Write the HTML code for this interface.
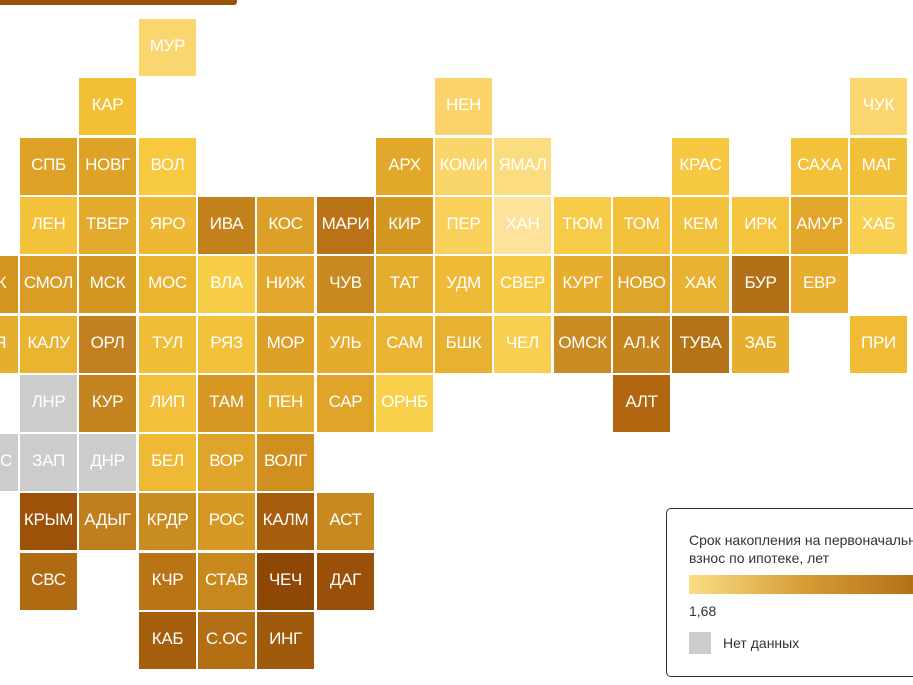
<!DOCTYPE html>
<html><head><meta charset="utf-8"><style>
body{margin:0;width:913px;height:685px;overflow:hidden;background:#fff;position:relative;font-family:"Liberation Sans",sans-serif}
.t{position:absolute;width:57px;height:54px;padding-bottom:3px;color:#fff;font-size:17px;display:flex;align-items:center;justify-content:center;white-space:nowrap;letter-spacing:-0.3px}
#bar{position:absolute;left:-5px;top:-5px;width:242px;height:10px;background:#9c5208;border-radius:3px}
#leg{position:absolute;left:666px;top:508px;width:260px;height:167px;border:1px solid #333;border-radius:5px;background:#fff}
</style></head><body>
<div id="bar"></div>
<div id="map"></div>
<div id="leg">
<div style="position:absolute;left:22px;top:22px;font-size:14px;line-height:18px;color:#333;white-space:nowrap">Срок накопления на первоначальный<br>взнос по ипотеке, лет</div>
<div style="position:absolute;left:22px;top:66px;width:240px;height:19px;background:linear-gradient(90deg,#fbdd85,#d49a34 50%,#b06a14)"></div>
<div style="position:absolute;left:22px;top:94px;font-size:14px;color:#333">1,68</div>
<div style="position:absolute;left:22px;top:123px;width:22px;height:22px;background:#cccccc"></div>
<div style="position:absolute;left:56px;top:126px;font-size:14px;color:#333">Нет данных</div>
</div>
<script>
var d=[
[0,2,"МУР","#fad66e"],
[1,1,"КАР","#f2c035"],[1,7,"НЕН","#fad36a"],[1,14,"ЧУК","#fbd66f"],
[2,0,"СПБ","#dea227"],[2,1,"НОВГ","#dea227"],[2,2,"ВОЛ","#f6c93e"],[2,6,"АРХ","#e2a82a"],[2,7,"КОМИ","#fad56a"],[2,8,"ЯМАЛ","#fbdc80"],[2,11,"КРАС","#f6c842"],[2,13,"САХА","#f4c23a"],[2,14,"МАГ","#f1bf38"],
[3,0,"ЛЕН","#f3c23a"],[3,1,"ТВЕР","#e4aa2e"],[3,2,"ЯРО","#eeb834"],[3,3,"ИВА","#c4821c"],[3,4,"КОС","#dca028"],[3,5,"МАРИ","#b97316"],[3,6,"КИР","#d49722"],[3,7,"ПЕР","#f8d05a"],[3,8,"ХАН","#fce29a"],[3,9,"ТЮМ","#f6cb48"],[3,10,"ТОМ","#f2c03a"],[3,11,"КЕМ","#f3c23c"],[3,12,"ИРК","#f4c43e"],[3,13,"АМУР","#e2a62a"],[3,14,"ХАБ","#f8cf50"],
[4,-1,"ПСК","#d49520"],[4,0,"СМОЛ","#d99c24"],[4,1,"МСК","#d39620"],[4,2,"МОС","#eab42f"],[4,3,"ВЛА","#f8cd48"],[4,4,"НИЖ","#e2a72b"],[4,5,"ЧУВ","#c88920"],[4,6,"ТАТ","#e5ad2e"],[4,7,"УДМ","#efbb36"],[4,8,"СВЕР","#f6ca44"],[4,9,"КУРГ","#e6ad2f"],[4,10,"НОВО","#dfa42a"],[4,11,"ХАК","#e9b232"],[4,12,"БУР","#b47016"],[4,13,"ЕВР","#e6ad2f"],
[5,-1,"БРЯ","#e6ae2e"],[5,0,"КАЛУ","#eab330"],[5,1,"ОРЛ","#c28020"],[5,2,"ТУЛ","#f0bd36"],[5,3,"РЯЗ","#f3c23a"],[5,4,"МОР","#dca027"],[5,5,"УЛЬ","#e5ab2d"],[5,6,"САМ","#eab432"],[5,7,"БШК","#e8b131"],[5,8,"ЧЕЛ","#f8cf50"],[5,9,"ОМСК","#c98b22"],[5,10,"АЛ.К","#c4841e"],[5,11,"ТУВА","#b57318"],[5,12,"ЗАБ","#e7ae2e"],[5,14,"ПРИ","#f0bc35"],
[6,0,"ЛНР","#cccccc"],[6,1,"КУР","#c48420"],[6,2,"ЛИП","#f2c03a"],[6,3,"ТАМ","#d69822"],[6,4,"ПЕН","#e6ae2e"],[6,5,"САР","#e0a42a"],[6,6,"ОРНБ","#f8d04c"],[6,10,"АЛТ","#b0670f"],
[7,-1,"ХЕРС","#cccccc"],[7,0,"ЗАП","#cccccc"],[7,1,"ДНР","#cccccc"],[7,2,"БЕЛ","#eeb934"],[7,3,"ВОР","#dfa42a"],[7,4,"ВОЛГ","#d09020"],
[8,0,"КРЫМ","#9c5208"],[8,1,"АДЫГ","#c07e1c"],[8,2,"КРДР","#c98c20"],[8,3,"РОС","#d69a24"],[8,4,"КАЛМ","#a65e0d"],[8,5,"АСТ","#c88a20"],
[9,0,"СВС","#b06a12"],[9,2,"КЧР","#b97416"],[9,3,"СТАВ","#c8881e"],[9,4,"ЧЕЧ","#8e4704"],[9,5,"ДАГ","#9a5008"],
[10,2,"КАБ","#a55e0c"],[10,3,"С.ОС","#b46e14"],[10,4,"ИНГ","#a05a0c"]];
var h="";d.forEach(function(e){var x=Math.round(20+59.3*e[1]),y=Math.round(19+59.3*e[0]);
h+='<div class="t" style="left:'+x+'px;top:'+y+'px;background:'+e[3]+'">'+e[2]+'</div>';});
document.getElementById("map").innerHTML=h;
</script>
</body></html>
